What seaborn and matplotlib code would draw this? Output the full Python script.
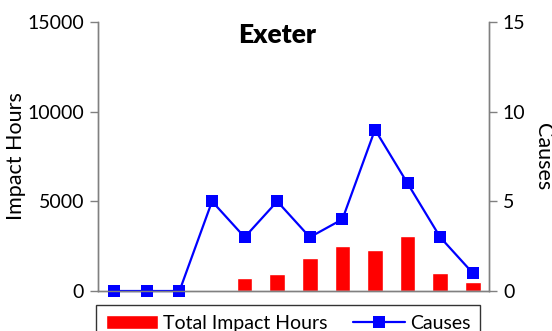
import pandas as pd
import numpy as np
import matplotlib
matplotlib.use("Agg")
import matplotlib.pyplot as plt
import seaborn as sns

# Data
periods = [str(i) for i in range(1, 13)]
impact_hours = [0, 0, 0, 0, 750, 970, 1860, 2530, 2310, 3090, 1030, 500]
causes = [0, 0, 0, 5, 3, 5, 3, 4, 9, 6, 3, 1]

df = pd.DataFrame({"Period": periods, "Hours": impact_hours, "Causes": causes})

sns.set_style("white")
plt.rcParams["font.family"] = ["Lato", "DejaVu Sans"]
plt.rcParams["text.color"] = "black"
plt.rcParams["axes.labelcolor"] = "black"

fig = plt.figure(figsize=(5.52, 3.31), dpi=100)
ax = fig.add_axes([0.1775, 0.1208, 0.7085, 0.8127])

sns.barplot(data=df, x="Period", y="Hours", color="#ff0000", width=0.48,
            saturation=1, ax=ax, label="Total Impact Hours")
if ax.get_legend() is not None:
    ax.get_legend().remove()
ax2 = ax.twinx()
sns.lineplot(x=np.arange(len(periods)), y=df["Causes"], color="#0000ff",
             marker="s", markersize=8.5, markeredgewidth=0, linewidth=1.6,
             ax=ax2, label="Causes", legend=False)
for ln in ax2.lines:
    ln.set_clip_on(False)

ax.set_xlim(-0.5, len(periods) - 0.5)
ax.set_ylim(0, 15000)
ax2.set_ylim(0, 15)
ax.set_yticks([0, 5000, 10000, 15000])
ax2.set_yticks([0, 5, 10, 15])
ax.set_xticks(np.arange(-0.5, len(periods), 1.0))
ax.set_xticklabels([])

ax.set_xlabel("")
ax.set_ylabel("Impact Hours", fontsize=15.5, labelpad=1)
ax2.set_ylabel("Causes", fontsize=15.5, rotation=270, labelpad=20)

for a in (ax, ax2):
    for s in a.spines.values():
        s.set_color("#808080")
        s.set_linewidth(1)
    a.spines["top"].set_visible(False)
    a.tick_params(axis="both", labelsize=14, color="#808080", length=6,
                  width=1, direction="out", labelcolor="black")
ax.tick_params(axis="x", length=5)
ax.tick_params(axis="y", left=True, pad=4)
ax2.tick_params(axis="y", right=True, pad=4)

ax.text(0.458, 0.952, "Exeter", transform=ax.transAxes, ha="center",
        va="center", fontsize=19, fontweight="heavy", color="black")

h1, l1 = ax.get_legend_handles_labels()
h2, l2 = ax2.get_legend_handles_labels()
leg = fig.legend(h1 + h2, l1 + l2, loc="upper left",
                 bbox_to_anchor=(0.174, 0.0785),
                 ncol=2, fontsize=14, frameon=True, fancybox=False,
                 handlelength=2.7, handletextpad=0.25, borderaxespad=0,
                 columnspacing=1.3, borderpad=0.5)
leg.get_frame().set_edgecolor("black")
leg.get_frame().set_linewidth(1)

fig.savefig("out.png", dpi=100)
